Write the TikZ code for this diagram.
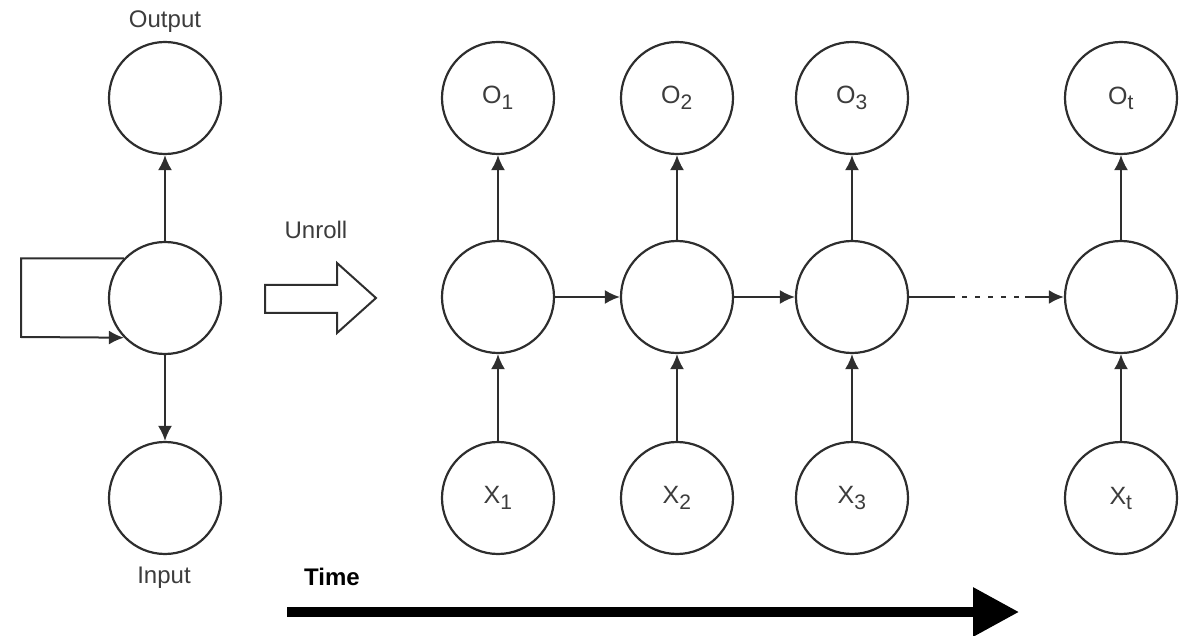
\documentclass[tikz,border=0pt]{standalone}
\usepackage{fontspec}
\setmainfont{Liberation Sans}
\usetikzlibrary{arrows.meta}
\definecolor{ink}{HTML}{2E2E2E}
\definecolor{txt}{HTML}{3C3C3C}
\tikzset{
  unit/.style={circle, draw=ink, line width=2.2pt, minimum size=112pt, inner sep=0pt, text=txt, font=\fontsize{25}{29}\selectfont},
  lbl/.style={text=txt, font=\fontsize{24}{28}\selectfont, inner sep=0pt},
  conn/.style={draw=ink, line width=2pt, -{Latex[length=15pt,width=14pt]}},
}
\newcommand{\stepidx}[1]{\textsubscript{\fontsize{21}{25}\selectfont #1}}
\begin{document}
\begin{tikzpicture}[x=1pt, y=-1pt]
\useasboundingbox (0,0) rectangle (1184,636);

% folded network
\node[unit] (ltop) at (165,98) {};
\node[unit] (lmid) at (165,298) {};
\node[unit] (lbot) at (165,498) {};
\node[lbl] (outlbl) at (165,22) {Output};
\node[lbl] (inlbl) at (164,578) {Input};
\draw[conn] (lmid) -- (ltop);
\draw[conn] (lmid) -- (lbot);
\coordinate (loopa) at (21,259);
\coordinate (loopb) at (21,337);
\draw[conn] (lmid.136) -- (lmid.136 -| loopa) -- (loopb) -- (lmid.224);

% unroll marker
\node[lbl] (unroll) at (316,230) {Unroll};
\draw[ink, line width=2pt, line join=miter]
  (265,285) -- (337,285) -- (337,263) -- (376,298) -- (337,333) -- (337,313) -- (265,313) -- cycle;

% unrolled network
\foreach \n/\x/\s in {1/498/1, 2/677/2, 3/852/3, 4/1121/t} {
  \node[unit] (o\n) at (\x,98) {O\stepidx{\s}};
  \node[unit] (m\n) at (\x,297) {};
  \node[unit] (x\n) at (\x,498) {X\stepidx{\s}};
  \draw[conn] (m\n) -- (o\n);
  \draw[conn] (x\n) -- (m\n);
}
\draw[conn] (m1) -- (m2);
\draw[conn] (m2) -- (m3);
\draw[conn, line width=2.4pt, dash pattern=on 46pt off 7pt on 5pt off 8pt on 5pt off 8pt on 5pt off 8pt on 5pt off 8pt on 5pt off 6pt on 80pt] (m3) -- (m4);

% time axis
\node[lbl, font=\fontsize{24}{28}\selectfont\bfseries, text=black] (time) at (332,577) {Time};
\coordinate (tstart) at (287,612);
\coordinate (tend) at (1019,612);
\draw[black, line width=9.5pt, -{Triangle[length=46pt,width=47pt]}] (tstart) -- (tend);
\end{tikzpicture}
\end{document}
